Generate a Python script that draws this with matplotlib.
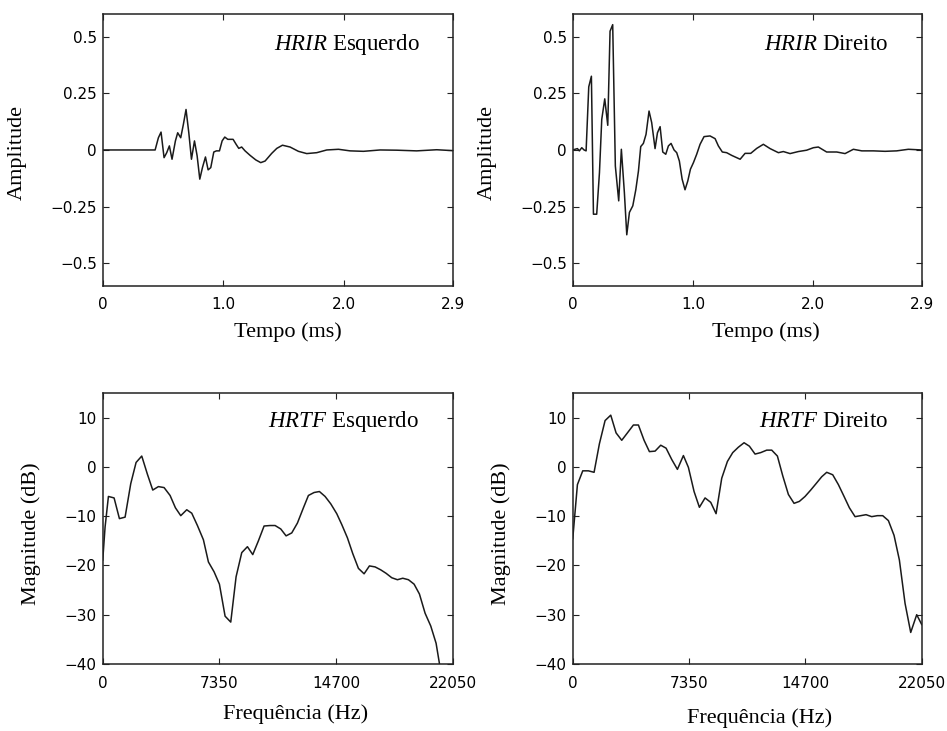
import matplotlib
matplotlib.use('Agg')
import matplotlib.pyplot as plt

# ===== HRIR esquerdo (tempo em ms, amplitude) =====
t_esq = [0, 0.434, 0.461, 0.483, 0.508, 0.530, 0.552, 0.574, 0.602, 0.621, 0.646,
         0.668, 0.690, 0.713, 0.735, 0.760, 0.782, 0.804, 0.826, 0.851, 0.873,
         0.895, 0.920, 0.942, 0.967, 0.989, 1.011, 1.036, 1.080, 1.105, 1.127,
         1.151, 1.179, 1.221, 1.268, 1.309, 1.345, 1.400, 1.442, 1.489, 1.552,
         1.621, 1.690, 1.773, 1.856, 1.953, 2.049, 2.160, 2.298, 2.436, 2.601,
         2.767, 2.9]
amp_esq = [0, 0, 0.054, 0.079, -0.034, -0.012, 0.018, -0.041, 0.040, 0.076, 0.054,
           0.113, 0.179, 0.076, -0.041, 0.040, -0.026, -0.129, -0.078, -0.031, -0.088,
           -0.078, -0.009, -0.004, -0.004, 0.040, 0.057, 0.047, 0.047, 0.025, 0.007,
           0.013, -0.004, -0.024, -0.044, -0.056, -0.049, -0.015, 0.007, 0.021, 0.013,
           -0.006, -0.016, -0.012, 0.0, 0.003, -0.004, -0.006, 0.0, -0.001, -0.004,
           0.001, -0.003]

# ===== HRIR direito =====
t_dir = [0, 0.019, 0.039, 0.055, 0.075, 0.094, 0.111, 0.133, 0.155, 0.172, 0.199,
         0.222, 0.241, 0.266, 0.291, 0.310, 0.332, 0.354, 0.382, 0.404, 0.429,
         0.449, 0.471, 0.499, 0.524, 0.546, 0.565, 0.587, 0.609, 0.634, 0.656,
         0.684, 0.704, 0.726, 0.748, 0.773, 0.795, 0.817, 0.842, 0.864, 0.886,
         0.909, 0.933, 0.956, 0.978, 1.003, 1.030, 1.058, 1.091, 1.141, 1.183,
         1.210, 1.243, 1.279, 1.321, 1.391, 1.432, 1.479, 1.529, 1.584, 1.640,
         1.709, 1.750, 1.806, 1.875, 1.944, 2.000, 2.041, 2.110, 2.194, 2.263,
         2.332, 2.402, 2.498, 2.595, 2.692, 2.789, 2.9]
amp_dir = [0, 0.003, 0.006, -0.004, 0.010, 0, -0.004, 0.279, 0.326, -0.284, -0.284,
           -0.100, 0.135, 0.226, 0.109, 0.525, 0.554, -0.071, -0.225, 0.003, -0.188,
           -0.375, -0.276, -0.247, -0.176, -0.093, 0.015, 0.029, 0.069, 0.172, 0.121,
           0.006, 0.076, 0.103, -0.009, -0.019, 0.018, 0.029, 0, -0.012, -0.049,
           -0.129, -0.176, -0.137, -0.085, -0.056, -0.019, 0.025, 0.059, 0.062, 0.050,
           0.018, -0.009, -0.012, -0.024, -0.041, -0.015, -0.015, 0.007, 0.025, 0.006,
           -0.012, -0.007, -0.016, -0.007, -0.001, 0.010, 0.013, -0.009, -0.009, -0.016,
           0.003, -0.004, -0.004, -0.006, -0.004, 0.003, 0]

# ===== HRTF esquerdo (frequencia em Hz, magnitude em dB) =====
f_esq = [0, 147, 357, 714, 1050, 1407, 1764, 2100, 2457, 2814, 3150, 3507, 3864,
         4242, 4578, 4914, 5292, 5607, 5964, 6342, 6657, 7014, 7350, 7707, 8064,
         8400, 8757, 9114, 9450, 9807, 10164, 10542, 10857, 11214, 11550, 11907,
         12264, 12642, 12957, 13314, 13650, 14007, 14364, 14742, 15057, 15414,
         15750, 16107, 16464, 16800, 17157, 17514, 17850, 18207, 18564, 18900,
         19257, 19614, 19950, 20307, 20664, 21000, 21210, 21420]
mag_esq = [-18.9, -12.2, -6.0, -6.3, -10.5, -10.2, -3.4, 0.9, 2.2, -1.5, -4.7, -4.0,
           -4.2, -5.8, -8.3, -9.9, -8.7, -9.4, -11.9, -14.8, -19.3, -21.3, -23.8,
           -30.3, -31.5, -22.3, -17.4, -16.2, -17.8, -15.0, -12.0, -11.9, -11.9,
           -12.6, -14.0, -13.4, -11.4, -8.3, -5.8, -5.2, -5.0, -6.0, -7.5, -9.5,
           -11.7, -14.4, -17.6, -20.6, -21.7, -20.1, -20.3, -20.9, -21.6, -22.5,
           -22.9, -22.6, -22.9, -23.8, -25.8, -29.7, -32.3, -35.8, -39.9, -46.0]

# ===== HRTF direito =====
f_dir = [0, 295, 632, 990, 1348, 1685, 2043, 2401, 2738, 3096, 3454, 3833, 4149,
         4507, 4844, 5202, 5560, 5897, 6255, 6613, 6992, 7308, 7666, 8003, 8361,
         8719, 9056, 9414, 9772, 10109, 10467, 10825, 11162, 11520, 11878, 12257,
         12573, 12931, 13268, 13626, 13984, 14321, 14679, 15037, 15374, 15732,
         16048, 16427, 16785, 17143, 17480, 17838, 18195, 18532, 18890, 19249,
         19586, 19944, 20302, 20639, 20997, 21355, 21734, 22050]
mag_dir = [-14.6, -3.6, -0.8, -0.8, -1.1, 4.7, 9.4, 10.5, 6.9, 5.4, 6.9, 8.5, 8.5,
           5.4, 3.1, 3.2, 4.4, 3.8, 1.5, -0.5, 2.3, -0.1, -5.0, -8.2, -6.3, -7.2,
           -9.5, -2.3, 1.1, 2.9, 4.0, 4.9, 4.2, 2.6, 2.9, 3.4, 3.4, 2.2, -1.8, -5.6,
           -7.4, -7.0, -6.0, -4.7, -3.4, -2.0, -1.1, -1.6, -3.6, -6.0, -8.3, -10.1,
           -9.9, -9.7, -10.1, -9.9, -9.9, -10.9, -13.9, -18.9, -27.7, -33.6, -30.0,
           -32.0]

# ticks e rotulos
hrir_yticks = [-0.5, -0.25, 0, 0.25, 0.5]
hrir_yticklabels = ['\u22120.5', '\u22120.25', '0', '0.25', '0.5']
hrir_xticks = [0, 1.0, 2.0, 2.9]
hrir_xticklabels = ['0', '1.0', '2.0', '2.9']
hrtf_yticks = [-40, -30, -20, -10, 0, 10]
hrtf_yticklabels = ['\u221240', '\u221230', '\u221220', '\u221210', '0', '10']
hrtf_xticks = [0, 7350, 14700, 22050]
hrtf_xticklabels = ['0', '7350', '14700', '22050']

plt.rcParams['mathtext.fontset'] = 'custom'
plt.rcParams['mathtext.rm'] = 'Liberation Serif'
plt.rcParams['mathtext.it'] = 'Liberation Serif:italic'

serif = 'Liberation Serif'
tick_font = 'DejaVu Sans'
line_color = '#1a1a1a'

fig = plt.figure(figsize=(9.47, 7.31), dpi=100)

# posicoes dos 4 quadros (left, bottom, width, height)
ax1 = fig.add_axes([0.1085, 0.6092, 0.3696, 0.3713])
ax2 = fig.add_axes([0.6048, 0.6092, 0.3685, 0.3713])
ax3 = fig.add_axes([0.1085, 0.0917, 0.3696, 0.3707])
ax4 = fig.add_axes([0.6048, 0.0917, 0.3685, 0.3707])

ax1.plot(t_esq, amp_esq, color=line_color, lw=1.1)
ax2.plot(t_dir, amp_dir, color=line_color, lw=1.1)
ax3.plot(f_esq, mag_esq, color=line_color, lw=1.1)
ax4.plot(f_dir, mag_dir, color=line_color, lw=1.1)

for ax in (ax1, ax2):
    ax.set_xlim(0, 2.9)
    ax.set_ylim(-0.6, 0.6)
    ax.set_xticks(hrir_xticks)
    ax.set_xticklabels(hrir_xticklabels)
    ax.set_yticks(hrir_yticks)
    ax.set_yticklabels(hrir_yticklabels)
    ax.set_ylabel('Amplitude', fontfamily=serif, fontsize=16)
    ax.set_xlabel('Tempo (ms)', fontfamily=serif, fontsize=16)
    ax.yaxis.set_label_coords(-0.217, 0.49)

for ax in (ax3, ax4):
    ax.set_xlim(0, 22050)
    ax.set_ylim(-40, 15)
    ax.set_xticks(hrtf_xticks)
    ax.set_xticklabels(hrtf_xticklabels)
    ax.set_yticks(hrtf_yticks)
    ax.set_yticklabels(hrtf_yticklabels)
    ax.set_ylabel('Magnitude (dB)', fontfamily=serif, fontsize=16)
    ax.set_xlabel('Frequência (Hz)', fontfamily=serif, fontsize=16)
    ax.yaxis.set_label_coords(-0.177, 0.48)

ax1.xaxis.set_label_coords(0.53, -0.133)
ax2.xaxis.set_label_coords(0.553, -0.133)
ax3.xaxis.set_label_coords(0.552, -0.15)
ax4.xaxis.set_label_coords(0.535, -0.162)

for ax in (ax1, ax2, ax3, ax4):
    ax.tick_params(direction='in', length=4, width=0.8, color='#222222',
                   top=True, right=True, labelsize=11)
    ax.tick_params(axis='x', pad=8.5)
    ax.tick_params(axis='y', pad=4.3)
    for lab in ax.get_xticklabels() + ax.get_yticklabels():
        lab.set_fontfamily(tick_font)
    for s in ax.spines.values():
        s.set_linewidth(1.1)
        s.set_color('#222222')

# titulos dentro de cada quadro
ax1.text(0.905, 0.887, r'$\mathit{HRIR}$ Esquerdo', transform=ax1.transAxes,
         ha='right', va='center', fontfamily=serif, fontsize=16.5)
ax2.text(0.904, 0.887, r'$\mathit{HRIR}$ Direito', transform=ax2.transAxes,
         ha='right', va='center', fontfamily=serif, fontsize=16.5)
ax3.text(0.902, 0.894, r'$\mathit{HRTF}$ Esquerdo', transform=ax3.transAxes,
         ha='right', va='center', fontfamily=serif, fontsize=16.5)
ax4.text(0.904, 0.894, r'$\mathit{HRTF}$ Direito', transform=ax4.transAxes,
         ha='right', va='center', fontfamily=serif, fontsize=16.5)

plt.savefig('out.png', dpi=100)
